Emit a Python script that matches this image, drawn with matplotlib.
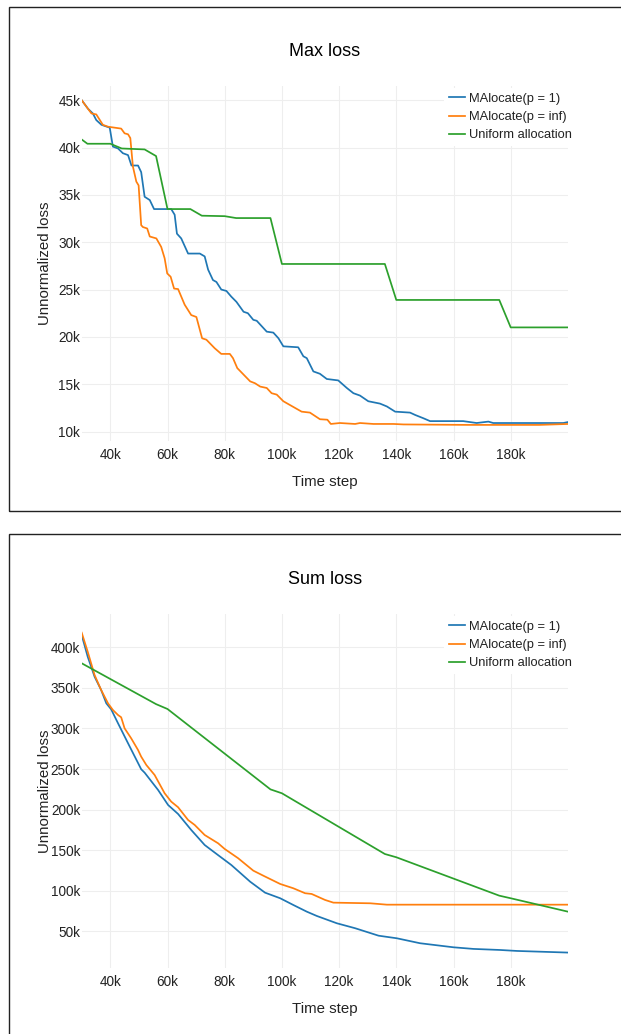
import matplotlib
matplotlib.use('Agg')
import matplotlib.pyplot as plt
from matplotlib.patches import Rectangle

plt.rcParams['font.family'] = ['Liberation Sans', 'DejaVu Sans']

# all values in thousands
labels = ['MAlocate(p = 1)', 'MAlocate(p = inf)', 'Uniform allocation']
colors = ['#1f77b4', '#ff7f0e', '#2ca02c']

xTicks = [40, 60, 80, 100, 120, 140, 160, 180]
xTickLabels = ['40k', '60k', '80k', '100k', '120k', '140k', '160k', '180k']

maxTicks = [10, 15, 20, 25, 30, 35, 40, 45]
maxTickLabels = ['10k', '15k', '20k', '25k', '30k', '35k', '40k', '45k']
sumTicks = [50, 100, 150, 200, 250, 300, 350, 400]
sumTickLabels = ['50k', '100k', '150k', '200k', '250k', '300k', '350k', '400k']

# Max loss
maxStepP1 = [30, 32.2, 33.9, 35.1, 36.9, 39.8, 40.9, 42.7, 44.4, 46.2, 47.4, 49.7, 50.8, 52.0,
             53.8, 55.3, 61.3, 62.5, 63.3, 64.8, 67.2, 71.3, 73.0, 74.2, 75.9, 77.1, 78.8, 80.6,
             82.3, 84.1, 86.6, 88.1, 90.0, 91.2, 94.7, 97.0, 98.8, 100.5, 105.7, 107.5, 108.7,
             111.0, 113.3, 115.7, 119.7, 122.7, 125.0, 127.3, 130.2, 134.3, 136.7, 139.6, 144.8,
             146.6, 149.5, 151.8, 163.4, 168.1, 172.2, 173.9, 198.4, 200]
maxLossP1 = [45.0, 44.1, 43.6, 42.9, 42.4, 42.1, 40.1, 39.9, 39.4, 39.2, 38.1, 38.1, 37.4, 34.8,
             34.45, 33.5, 33.5, 32.9, 30.9, 30.4, 28.8, 28.8, 28.5, 27.1, 26.0, 25.8, 25.0, 24.85,
             24.25, 23.7, 22.65, 22.5, 21.8, 21.7, 20.55, 20.45, 19.85, 19.0, 18.9, 17.95, 17.75,
             16.35, 16.1, 15.55, 15.4, 14.6, 14.05, 13.8, 13.2, 12.95, 12.65, 12.1, 12.0,
             11.75, 11.4, 11.1, 11.1, 10.9, 11.05, 10.9, 10.9, 11.0]

maxStepPinf = [30, 33.4, 35.1, 37.4, 39.2, 43.8, 45.0, 46.2, 47.0, 47.9, 49.1, 49.9, 50.8, 51.4,
               52.9, 53.8, 56.1, 57.8, 59.0, 59.9, 61.1, 62.3, 63.7, 66.0, 68.3, 70.1, 72.1, 73.6,
               76.5, 78.8, 81.8, 82.9, 84.4, 88.9, 90.6, 92.4, 94.7, 96.4, 98.2, 100.5, 103.4,
               106.9, 109.8, 113.3, 115.9, 117.1, 120.3, 125.6, 127.3, 132.0, 139.0, 142.5, 165,
               190, 200]
maxLossPinf = [45.0, 43.6, 43.5, 42.4, 42.2, 42.0, 41.5, 41.4, 41.0, 38.0, 36.4, 36.0, 31.8, 31.6,
               31.45, 30.6, 30.4, 29.5, 28.3, 26.7, 26.35, 25.1, 25.05, 23.4, 22.3, 22.1, 19.85, 19.7,
               18.8, 18.2, 18.2, 17.75, 16.7, 15.3, 15.1, 14.75, 14.6, 14.05, 13.9, 13.2, 12.7,
               12.1, 12.0, 11.3, 11.25, 10.8, 10.9, 10.8, 10.9, 10.8, 10.8, 10.75, 10.7,
               10.7, 10.8]

maxStepUni = [30, 32, 40, 44, 52, 56, 60, 68, 72, 80, 84, 96, 100, 136, 140, 176, 180, 200]
maxLossUni = [40.85, 40.4, 40.4, 39.9, 39.8, 39.1, 33.5, 33.5, 32.8, 32.75, 32.55, 32.55, 27.7,
              27.7, 23.9, 23.9, 21.0, 21.0]

# Sum loss
sumStepP1 = [30, 32.1, 34.5, 36.8, 38.6, 40.3, 42.7, 46.2, 50.8, 52.0, 56.7, 60.2, 63.7, 68.3,
             73.0, 77.7, 82.3, 88.9, 94.1, 99.4, 104.0, 108.7, 112.2, 119.2, 125.6, 133.8, 140.2,
             148.3, 160.0, 167.0, 176.3, 182.2, 200]
sumLossP1 = [415, 388.4, 363.8, 347.4, 331, 323.6, 306.4, 281.8, 249.8, 245.6, 224.3, 205.8, 194.7,
             175, 156.5, 144, 131.9, 111.3, 97.8, 90.9, 82.6, 74.4, 69.1, 60.1, 54, 44.8, 41.6,
             35.5, 30.5, 28.5, 27.2, 26, 24]

sumStepPinf = [30, 32.1, 34.5, 36.8, 39.2, 40.9, 42.7, 43.8, 45.0, 47.3, 49.7, 50.8, 52.6, 55.5,
               59.0, 61.3, 63.7, 67.2, 69.5, 73.0, 77.7, 80.0, 84.7, 90.0, 93.5, 99.4, 104.0,
               108.1, 110.4, 115.1, 118.0, 130.9, 136.7, 200]
sumLossPinf = [418, 394.6, 365.9, 347.4, 331, 322.8, 316.6, 313.8, 300.2, 287.9, 273.5, 265.3,
               255, 242.7, 220.2, 209.9, 203, 187.3, 181.2, 168.8, 158.6, 151.6, 140.2, 124.9,
               118.7, 108.5, 103.2, 97.1, 96.2, 88.8, 85.5, 84.7, 83, 83]

sumStepUni = [30, 56, 60, 96, 100, 136, 140, 176, 180, 200]
sumLossUni = [380.3, 330, 324, 225, 220.2, 145.4, 141.4, 94.1, 90.9, 74.4]

W, H = 621, 1034
textColor = '#222222'


def fx(px):
    return px / W


def fy(py):
    return 1 - py / H


def drawPanel(fig, top, bottom, title, series, yTicks, yTickLabels, ylim, boxTop, boxBottom, titleY, xlabelY):
    fig.patches.append(Rectangle((fx(9), fy(boxBottom)), 1.1, (boxBottom - boxTop) / H,
                                 transform=fig.transFigure, fill=False, ec='#222222', lw=1.0))

    ax = fig.add_axes([fx(81.7), fy(bottom), fx(567.9) - fx(81.7), (bottom - top) / H])
    for (steps, loss), label, color in zip(series, labels, colors):
        ax.plot(steps, loss, color=color, lw=1.25, label=label)

    ax.set_xlim(30, 200)
    ax.set_ylim(*ylim)
    ax.set_xticks(xTicks)
    ax.set_xticklabels(xTickLabels)
    ax.set_yticks(yTicks)
    ax.set_yticklabels(yTickLabels)
    ax.tick_params(length=0, labelsize=9.8, colors=textColor)
    ax.tick_params(axis='x', pad=5)
    ax.tick_params(axis='y', pad=1)
    for s in ax.spines.values():
        s.set_visible(False)
    ax.grid(True, color='#eeeeee', lw=0.8)
    ax.set_axisbelow(True)

    leg = ax.legend(loc='upper left', bbox_to_anchor=(0.745, 0.995), borderaxespad=0,
                    fontsize=9.3, handlelength=1.25, handletextpad=0.3, labelspacing=0.47,
                    borderpad=0.4, frameon=True, fancybox=False)
    leg.get_frame().set_facecolor('white')
    leg.get_frame().set_edgecolor('none')
    leg.get_frame().set_alpha(1)
    for t in leg.get_texts():
        t.set_color(textColor)

    fig.text(fx(325), fy(titleY), title, ha='center', va='center', fontsize=13, color='black')
    fig.text(fx(325), fy(xlabelY), 'Time step', ha='center', va='center', fontsize=10.8,
             color=textColor)
    fig.text(fx(44.8), fy((top + bottom) / 2), 'Unnormalized loss', ha='center', va='center',
             rotation=90, fontsize=10.8, color=textColor)
    return ax


fig = plt.figure(figsize=(W / 100, H / 100), dpi=100)

drawPanel(fig, 86, 441, 'Max loss',
          [(maxStepP1, maxLossP1), (maxStepPinf, maxLossPinf), (maxStepUni, maxLossUni)],
          maxTicks, maxTickLabels, (9.0, 46.5), 7, 511, 51, 482)

drawPanel(fig, 614, 968, 'Sum loss',
          [(sumStepP1, sumLossP1), (sumStepPinf, sumLossPinf), (sumStepUni, sumLossUni)],
          sumTicks, sumTickLabels, (5, 441), 534, 1080, 580, 1009)

fig.savefig('out.png', dpi=100)
